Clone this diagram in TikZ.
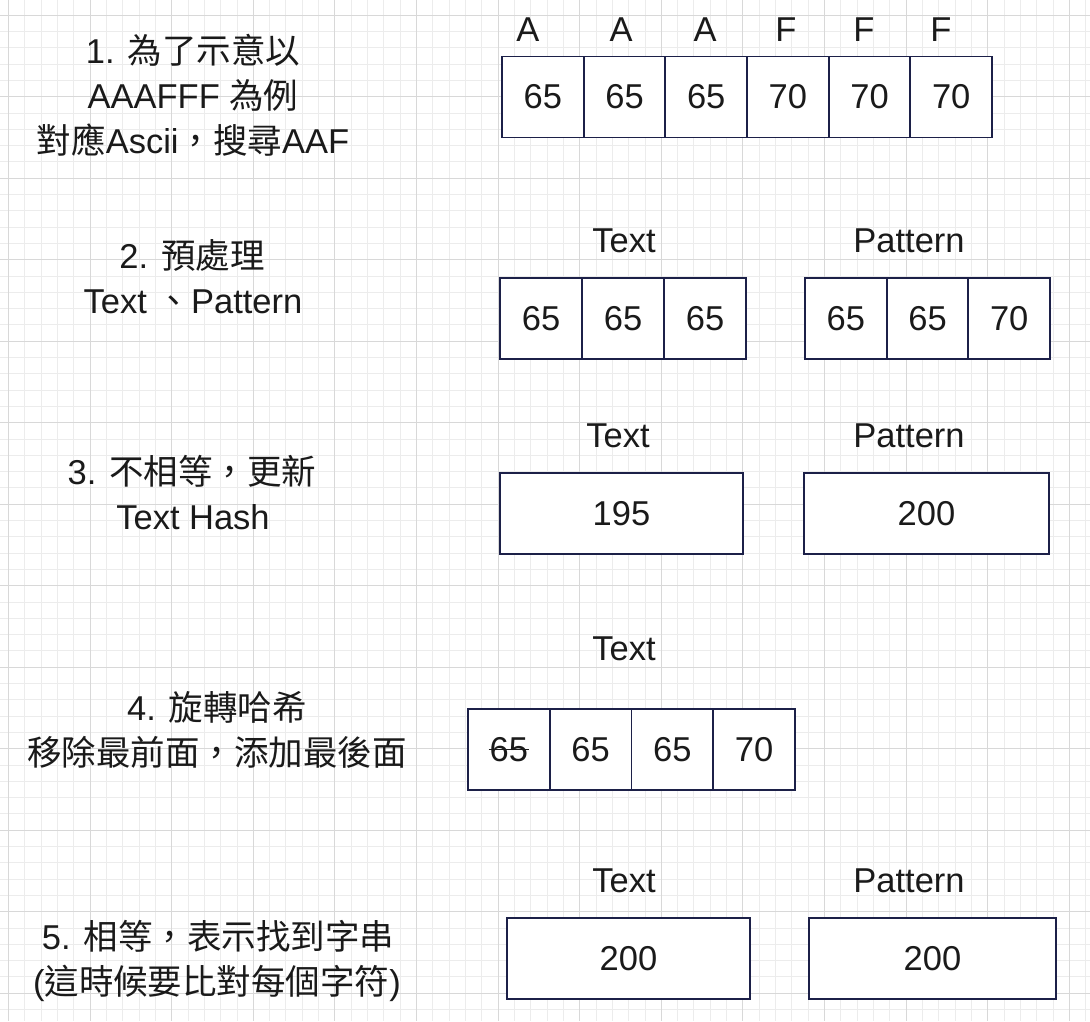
\documentclass[tikz,border=0pt]{standalone}
\usepackage{fontspec}
\usetikzlibrary{backgrounds}
\setmainfont{Liberation Sans}
\newfontfamily\cjk{Noto Sans CJK TC}
\definecolor{gridminor}{RGB}{236,236,236}
\definecolor{gridmajor}{RGB}{216,216,216}
\definecolor{boxline}{RGB}{28,32,72}
\definecolor{ink}{RGB}{26,26,26}
\begin{document}
\begin{tikzpicture}[x=1pt,y=-1pt,
  cell/.style={draw=boxline, line width=1.8pt, inner sep=0pt,
    minimum height=81pt, text=ink, font=\fontsize{34.5}{40}\selectfont},
  lab/.style={anchor=base, inner sep=0pt, text=ink, font=\fontsize{34.5}{40}\selectfont},
  numtxt/.style={inner sep=0pt, text=ink, font=\fontsize{34.5}{40}\selectfont}]
\useasboundingbox (0,0) rectangle (1090,1021);
\begin{scope}[on background layer]
\fill[white] (0,0) rectangle (1090,1021);
\clip (0,0) rectangle (1090,1021);
\foreach \i in {0,...,66} {\draw[gridminor, line width=0.9pt] (8.5+16.32*\i,0) -- (8.5+16.32*\i,1021);}
\foreach \j in {0,...,61} {\draw[gridminor, line width=0.9pt] (0,15.2+16.3*\j) -- (1090,15.2+16.3*\j);}
\foreach \i in {0,...,13} {\draw[gridmajor, line width=1pt] (8.5+81.6*\i,0) -- (8.5+81.6*\i,1021);}
\foreach \j in {0,...,12} {\draw[gridmajor, line width=1pt] (0,15.2+81.5*\j) -- (1090,15.2+81.5*\j);}
\end{scope}

% ---- Row 1
\node[lab] (l1a) at (193,63) {1. {\cjk 為了示意以}};
\node[lab] (l1b) at (193,108) {AAAFFF {\cjk 為例}};
\node[lab] (l1c) at (193,153) {{\cjk 對應}Ascii{\cjk ，搜尋}AAF};
\node[lab] (h1a) at (528,41) {A};
\node[lab] (h1b) at (621,41) {A};
\node[lab] (h1c) at (705,41) {A};
\node[lab] (h1d) at (786,41) {F};
\node[lab] (h1e) at (864,41) {F};
\node[lab] (h1f) at (941,41) {F};
\node[cell, minimum width=81.67pt] (r1c1) at (542.8,97) {65};
\node[cell, minimum width=81.67pt] (r1c2) at (624.5,97) {65};
\node[cell, minimum width=81.67pt] (r1c3) at (706.2,97) {65};
\node[cell, minimum width=81.67pt] (r1c4) at (787.8,97) {70};
\node[cell, minimum width=81.67pt] (r1c5) at (869.5,97) {70};
\node[cell, minimum width=81.67pt] (r1c6) at (951.2,97) {70};

% ---- Row 2
\node[lab] (l2a) at (192,268) {2. {\cjk 預處理}};
\node[lab] (l2b) at (193,313) {Text {\cjk 、}Pattern};
\node[lab] (h2a) at (624,252) {Text};
\node[lab] (h2b) at (909,252) {Pattern};
\node[cell, minimum width=82pt] (r2t1) at (541,318.5) {65};
\node[cell, minimum width=82pt] (r2t2) at (623,318.5) {65};
\node[cell, minimum width=82pt] (r2t3) at (705,318.5) {65};
\node[cell, minimum width=81.67pt] (r2p1) at (845.8,318.5) {65};
\node[cell, minimum width=81.67pt] (r2p2) at (927.5,318.5) {65};
\node[cell, minimum width=81.67pt] (r2p3) at (1009.2,318.5) {70};

% ---- Row 3
\node[lab] (l3a) at (192,484.5) {3. {\cjk 不相等，更新}};
\node[lab] (l3b) at (193,529.5) {Text Hash};
\node[lab] (h3a) at (618,447) {Text};
\node[lab] (h3b) at (909,447) {Pattern};
\node[cell, minimum width=243pt] (r3t) at (621.5,513.5) {195};
\node[cell, minimum width=245pt] (r3p) at (926.5,513.5) {200};

% ---- Row 4
\node[lab] (l4a) at (217,720) {4. {\cjk 旋轉哈希}};
\node[lab] (l4b) at (217,765) {{\cjk 移除最前面，添加最後面}};
\node[lab] (h4a) at (624,660) {Text};
\node[cell, minimum width=81.75pt] (r4c1) at (508.9,749.5) {};
\node[numtxt] (st) at (r4c1.center) {65};
\draw[ink, line width=1.3pt] ([xshift=-1pt]st.west) -- ([xshift=1pt]st.east);
\node[cell, minimum width=81.75pt] (r4c2) at (590.6,749.5) {65};
\node[cell, minimum width=81.75pt] (r4c3) at (672.4,749.5) {65};
\node[cell, minimum width=81.75pt] (r4c4) at (754.1,749.5) {70};

% ---- Row 5
\node[lab] (l5a) at (218,949.5) {5. {\cjk 相等，表示找到字串}};
\node[lab] (l5b) at (217,994.5) {({\cjk 這時候要比對每個字符})};
\node[lab] (h5a) at (624,892) {Text};
\node[lab] (h5b) at (909,892) {Pattern};
\node[cell, minimum width=243pt] (r5t) at (628.5,958.5) {200};
\node[cell, minimum width=247pt] (r5p) at (932.5,958.5) {200};

% white fill inside the boxes, under the borders but over the grid
\begin{scope}[on background layer]
\fill[white] (r1c1.north west) rectangle (r1c6.south east);
\fill[white] (r2t1.north west) rectangle (r2t3.south east);
\fill[white] (r2p1.north west) rectangle (r2p3.south east);
\fill[white] (r3t.north west) rectangle (r3t.south east);
\fill[white] (r3p.north west) rectangle (r3p.south east);
\fill[white] (r4c1.north west) rectangle (r4c4.south east);
\fill[white] (r5t.north west) rectangle (r5t.south east);
\fill[white] (r5p.north west) rectangle (r5p.south east);
\end{scope}
\end{tikzpicture}
\end{document}
